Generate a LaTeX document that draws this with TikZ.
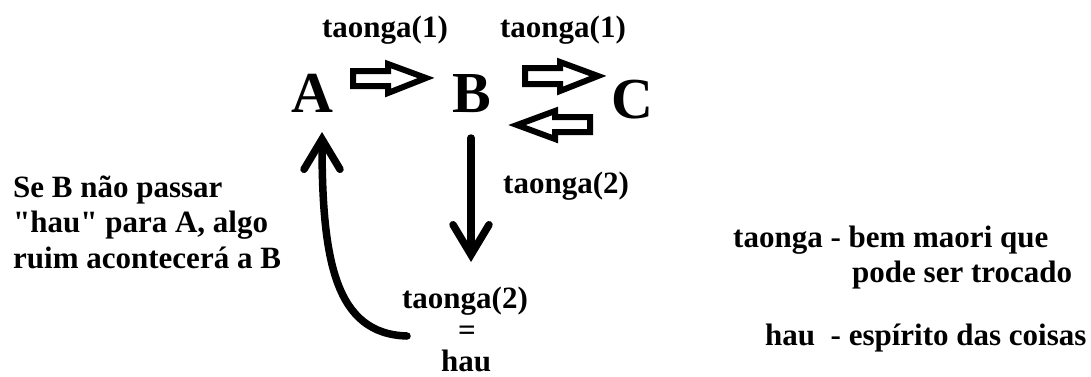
\documentclass[tikz,border=0pt]{standalone}
\usepackage{fontspec}
\setmainfont{Liberation Serif}
\usetikzlibrary{arrows.meta}

\begin{document}
\begin{tikzpicture}[x=1pt,y=-1pt,
	txt/.style={font=\bfseries\fontsize{31}{35.5}\selectfont,inner sep=0pt},
	big/.style={font=\bfseries\fontsize{58}{58}\selectfont,inner sep=0pt},
	hollow/.style={draw,line width=6pt,fill=white,line join=miter},
	bigarrow/.style={line width=7.5pt,line cap=round,-{Straight Barb[length=30pt,width=36pt,line cap=round]}}]
	\useasboundingbox (0,0) rectangle (1091,376);

	% the three parties
	\node[big,anchor=base] (A) at (312,112) {A};
	\node[big,anchor=base] (B) at (472,112) {B};
	\node[big,anchor=base] (C) at (632,118) {C};

	% gifts passed along
	\node[txt,anchor=base] (t1) at (385,37) {taonga(1)};
	\node[txt,anchor=base] (t2) at (563,37) {taonga(1)};
	\draw[hollow] (353,71) -- (388,71) -- (388,64) -- (426,78) -- (388,93) -- (388,86) -- (353,86) -- cycle;
	\draw[hollow] (525,68) -- (560,68) -- (560,62) -- (598,76) -- (560,91) -- (560,84) -- (525,84) -- cycle;
	\draw[hollow] (590,117) -- (555,117) -- (555,111) -- (517,125) -- (555,139) -- (555,132) -- (590,132) -- cycle;

	\node[txt,anchor=base west] (t3) at (503,193) {taonga(2)};
	\node[txt,anchor=base] (t4) at (465,308) {taonga(2)};
	\node[txt,anchor=base] (eq) at (467,340) {=};
	\node[txt,anchor=base] (hau) at (466,371) {hau};
	\draw[bigarrow] (471,138) -- (471,262);
	\draw[bigarrow] (407,336) .. controls (335,334) and (322,260) .. (322,132);

	% notes
	\node[txt,anchor=base west,align=left] (warn) at (13,268) {Se B não passar\\\textquotedbl hau\textquotedbl{} para A, algo\\ruim acontecerá a B};
	\node[txt,anchor=base west] (leg1) at (733,247) {taonga - bem maori que};
	\node[txt,anchor=base west] (leg2) at (852,282) {pode ser trocado};
	\node[txt,anchor=base west] (leg3) at (765,345) {hau \ - espírito das coisas};
\end{tikzpicture}
\end{document}
